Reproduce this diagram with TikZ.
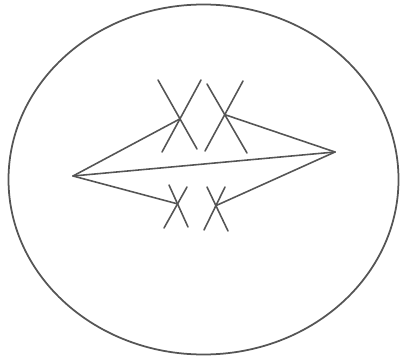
\documentclass[tikz,border=0pt]{standalone}
\usepackage{tikz}
\usetikzlibrary{calc}
\definecolor{PenLine}{RGB}{85,85,85}
\tikzset{
  ln_pen/.style={draw=PenLine,line width=0.45pt,line cap=round},
  ln_ring/.style={draw=PenLine,line width=0.5pt},
}
\newcommand{\crossat}[5]{%
  \draw[ln_pen](#2)--(#3);
  \draw[ln_pen](#4)--(#5);
  \coordinate (#1) at (intersection of #2--#3 and #4--#5);}

\begin{document}
\begin{tikzpicture}[x=0.01cm,y=-0.01cm]
\useasboundingbox (0,0) rectangle (401,358);
\draw[ln_ring](203.5,179.5) ellipse [x radius=195,y radius=175];
% tips
\coordinate (L) at (73,176);
\coordinate (R) at (335,152);
% upper crosses
\crossat{UL}{158,80}{197,149}{201,80}{162,152}
\crossat{UR}{207,84}{247,153}{243,81}{205,151}
% lower crosses
\crossat{DL}{169,185}{188,227}{187,187}{164,228}
\crossat{DR}{207,187}{228,231}{225,187}{204,230}
% links
\draw[ln_pen](L)--(UL);
\draw[ln_pen](L)--(R);
\draw[ln_pen](L)--(DL);
\draw[ln_pen](UR)--(R);
\draw[ln_pen](DR)--(R);
\end{tikzpicture}
\end{document}
